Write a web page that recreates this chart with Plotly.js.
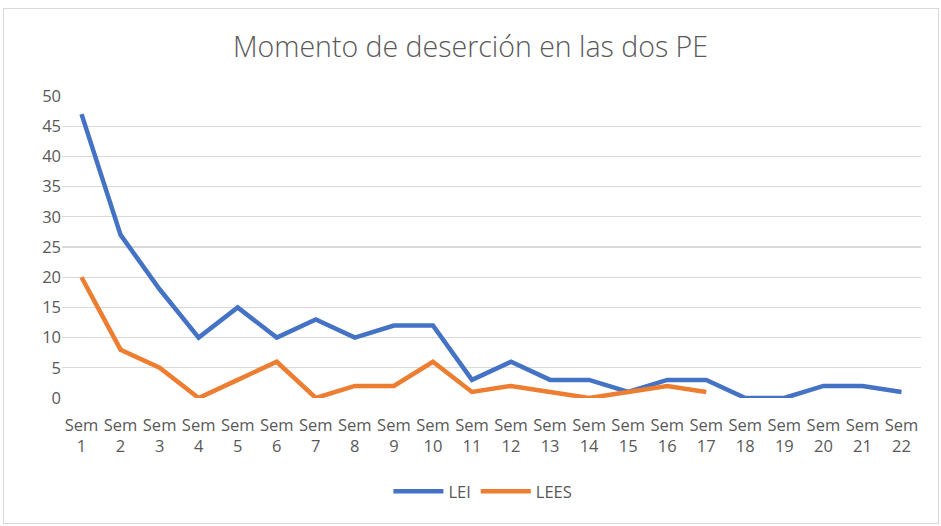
<!DOCTYPE html>
<html><head><meta charset="utf-8">
<script src="https://cdn.plot.ly/plotly-3.0.1.min.js"></script>
<style>html,body{margin:0;padding:0;background:#fff;}#frame{position:absolute;left:3px;top:8px;width:936px;height:516px;border:1px solid #d9d9d9;box-sizing:border-box;}#chart{width:941px;height:526px;position:absolute;left:0;top:0;}</style>
</head><body><div id="frame"></div><div id="chart"></div>
<script>
const categories = ["Sem<br>1","Sem<br>2","Sem<br>3","Sem<br>4","Sem<br>5","Sem<br>6","Sem<br>7","Sem<br>8","Sem<br>9","Sem<br>10","Sem<br>11","Sem<br>12","Sem<br>13","Sem<br>14","Sem<br>15","Sem<br>16","Sem<br>17","Sem<br>18","Sem<br>19","Sem<br>20","Sem<br>21","Sem<br>22"];
const lei = [47,27,18,10,15,10,13,10,12,12,3,6,3,3,1,3,3,0,0,2,2,1];
const lees = [20,8,5,0,3,6,0,2,2,6,1,2,1,0,1,2,1];
const yTicks = [0,5,10,15,20,25,30,35,40,45,50];
const font = "Open Sans, Lato, sans-serif";
const traces = [
 {x: categories, y: lei, name: "LEI", type: "scatter", mode: "lines", line: {color: "#4472c4", width: 4.5}},
 {x: categories.slice(0, lees.length), y: lees, name: "LEES", type: "scatter", mode: "lines", line: {color: "#ed7d31", width: 4.5}}
];
const layout = {
 width: 941, height: 526,
 paper_bgcolor: "rgba(0,0,0,0)", plot_bgcolor: "rgba(0,0,0,0)",
 margin: {l: 62, r: 20, t: 96, b: 128},
 title: {text: "Momento de deserción en las dos PE", font: {family: font, size: 28.5, color: "#595959", weight: 300}, x: 0.5, xanchor: "center", y: 0.91, yanchor: "middle"},
 xaxis: {type: "category", categoryorder: "array", categoryarray: categories, range: [-0.5, 21.5], showgrid: false, zeroline: false, showline: false, ticks: "", tickfont: {family: font, size: 16.5, color: "#595959"}, tickangle: 0, ticklabelstandoff: 15, fixedrange: true},
 yaxis: {range: [0, 50], tickvals: yTicks, showgrid: true, gridcolor: "#d9d9d9", gridwidth: 1.3, zeroline: false, showline: false, ticks: "", tickfont: {family: font, size: 16.5, color: "#595959"}},
 showlegend: true,
 legend: {orientation: "h", x: 0.49, xanchor: "center", y: -0.31, yanchor: "middle", font: {family: font, size: 16.5, color: "#595959"}, itemwidth: 50, tracegroupgap: 0}
};
Plotly.newPlot("chart", traces, layout, {displayModeBar: false, staticPlot: true});
</script></body></html>
